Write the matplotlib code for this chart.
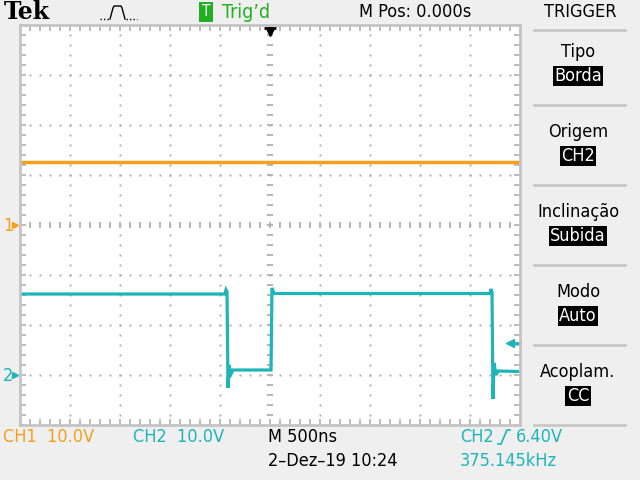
"""Tek scope screen capture: CH1 dc level and CH2 pulse train"""

import numpy as np
import matplotlib.pyplot as plt
from matplotlib.lines import Line2D

# ---- data (time in us, volts) ----
ch1_t = [-2.48, 2.50]
ch1_v = [12.7, 12.7]

ch2_t = [-2.48, -0.45, -0.44, -0.43, -0.42, -0.41, -0.39, -0.37, 0.01, 0.02, 0.04,
         2.20, 2.21, 2.22, 2.23, 2.24, 2.26, 2.28, 2.50]
ch2_v = [16.2, 16.2, 17.0, 16.6, -2.6, 2.0, 0.2, 1.0, 1.0, 17.4, 16.3,
         16.3, 17.2, 16.6, -4.8, 2.4, 0.0, 0.8, 0.7]

ch1_scale = 10.0   # V/div
ch2_scale = 10.0
ch1_ground = 0.0   # div from center
ch2_ground = -3.0
trig_level = 6.40
time_div = 0.5     # us/div

panel_titles = ["Tipo", "Origem", "Inclinação", "Modo", "Acoplam."]
panel_values = ["Borda", "CH2", "Subida", "Auto", "CC"]

ORANGE = '#f5a01a'
TEAL = '#1db5b8'
GREEN = '#22b022'
GRID = '#b0b0b0'
BG = '#efefef'

plt.rcParams['font.family'] = ['DejaVu Sans']
plt.rcParams['font.stretch'] = 'condensed'
FS = 13

W, H = 640, 480
fig = plt.figure(figsize=(6.4, 4.8), dpi=100, facecolor=BG)


def fx(x):
    return x / W


def fy(y):
    return 1 - y / H


ax = fig.add_axes([fx(20), fy(425), 500 / W, 400 / H])
ax.set_facecolor('white')
ax.set_xlim(-5 * time_div, 5 * time_div)
ax.set_ylim(-4, 4)

# border ticks
ax.set_xticks(np.arange(-2.5, 2.51, 0.1))
ax.set_yticks(np.arange(-4, 4.01, 0.2))
ax.tick_params(direction='in', length=4, width=1.2, color=GRID, top=True, right=True,
               labelbottom=False, labelleft=False)
for s in ax.spines.values():
    s.set_color('#c4c4c4')
    s.set_linewidth(2)

# dotted graticule
xd = np.arange(-2.4, 2.41, 0.1)
yd = np.arange(-3.8, 3.81, 0.2)
for yl in [-3, -2, -1, 1, 2, 3]:
    ax.plot(xd, np.full_like(xd, yl), ls='none', marker='s', ms=1.5, mec='none', mfc=GRID)
for xl in [-2, -1.5, -1, -0.5, 0.5, 1, 1.5, 2]:
    ax.plot(np.full_like(yd, xl), yd, ls='none', marker='s', ms=1.5, mec='none', mfc=GRID)
# center cross with ticks
ax.plot(xd, np.zeros_like(xd), ls='none', marker='|', ms=4, mew=1.3, color=GRID)
ax.plot(np.zeros_like(yd), yd, ls='none', marker='_', ms=4, mew=1.3, color=GRID)

# traces
ax.plot(ch1_t, np.array(ch1_v) / ch1_scale + ch1_ground, color=ORANGE, lw=2.5,
        solid_joinstyle='miter')
ax.plot(ch2_t, np.array(ch2_v) / ch2_scale + ch2_ground, color=TEAL, lw=2.3,
        solid_joinstyle='miter')

# trigger position marker (top centre)
ax.plot([0], [3.86], marker='v', ms=6, color='black', clip_on=False)
ax.plot([0], [3.94], marker='_', ms=9, mew=2, color='black', clip_on=False)

# trigger level arrow (right)
ty = trig_level / ch2_scale + ch2_ground
ax.plot([2.4], [ty], marker='<', ms=6, color=TEAL, clip_on=False)
ax.plot([2.42, 2.5], [ty, ty], color=TEAL, lw=2, clip_on=False)

# ground markers on left
fig.text(fx(3), fy(226), "1", color=ORANGE, fontsize=FS, va='center')
fig.add_artist(Line2D([fx(15)], [fy(225)], marker='>', ms=4, color=ORANGE))
fig.text(fx(3), fy(376), "2", color=TEAL, fontsize=FS, va='center')
fig.add_artist(Line2D([fx(15)], [fy(375)], marker='>', ms=4, color=TEAL))

# ---- top bar ----
fig.text(fx(4), fy(12), "Tek", family=['DejaVu Serif'], fontstretch='normal',
         fontweight='bold', fontsize=17, va='center')
# little acquisition icon: dotted baseline, solid pulse
fig.add_artist(Line2D([fx(100), fx(110)], [fy(19), fy(19)], color='black', lw=1, ls=(0, (1, 1.5))))
fig.add_artist(Line2D([fx(126), fx(137)], [fy(19), fy(19)], color='black', lw=1, ls=(0, (1, 1.5))))
icon_x = [110, 113, 114, 121, 122, 125]
icon_y = [19, 8, 6, 6, 8, 19]
fig.add_artist(Line2D([fx(v) for v in icon_x], [fy(v) for v in icon_y],
                      color='black', lw=1))
fig.text(fx(202), fy(12), "T", color='white', fontsize=11, va='center',
         bbox=dict(facecolor=GREEN, edgecolor='none', pad=2))
fig.text(fx(222), fy(12), "Trig\u2019d", color=GREEN, fontsize=FS + 1, va='center')
fig.text(fx(359), fy(12), "M Pos: 0.000s", color='black', fontsize=FS, va='center')
fig.text(fx(580), fy(12), "TRIGGER", color='black', fontsize=FS, va='center', ha='center')

# ---- right panel ----
sep_y = [30, 105, 185, 265, 345, 425]
for yy in sep_y:
    fig.add_artist(Line2D([fx(534), fx(625)], [fy(yy), fy(yy)], color='#c8c8c8', lw=2))
for i, (t, v) in enumerate(zip(panel_titles, panel_values)):
    y0 = 52 + 80 * i
    fig.text(fx(578), fy(y0), t, color='black', fontsize=FS, ha='center', va='center')
    fig.text(fx(578), fy(y0 + 24), v, color='white', fontsize=FS, ha='center', va='center',
             bbox=dict(facecolor='black', edgecolor='none', pad=1))

# ---- bottom bar ----
fig.text(fx(3), fy(437), "CH1  10.0V", color=ORANGE, fontsize=FS, va='center')
fig.text(fx(133), fy(437), "CH2  10.0V", color=TEAL, fontsize=FS, va='center')
fig.text(fx(268), fy(437), "M 500ns", color='black', fontsize=FS, va='center')
fig.text(fx(268), fy(461), "2\u2013Dez\u201319 10:24", color='black', fontsize=FS, va='center')
fig.text(fx(460), fy(437), "CH2", color=TEAL, fontsize=FS, va='center')
edge_x = [498, 501, 507, 510]
edge_y = [444, 444, 430, 430]
fig.add_artist(Line2D([fx(v) for v in edge_x], [fy(v) for v in edge_y], color=TEAL, lw=1.2))
fig.text(fx(516), fy(437), "6.40V", color=TEAL, fontsize=FS, va='center')
fig.text(fx(460), fy(461), "375.145kHz", color=TEAL, fontsize=FS, va='center')

fig.savefig('out.png', dpi=100, facecolor=BG)
